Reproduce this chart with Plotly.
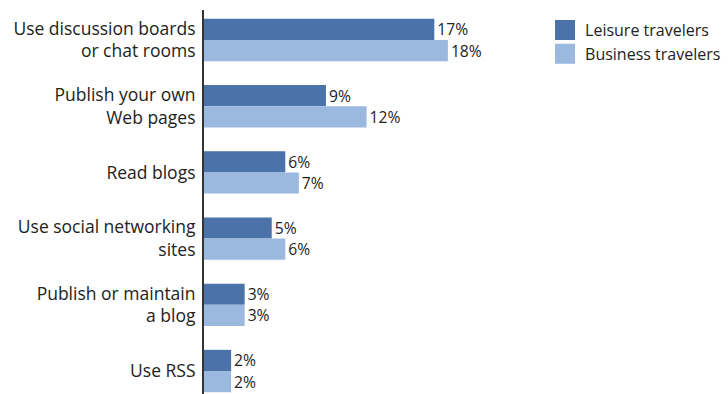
import plotly.graph_objects as go

categories = [
    "Use discussion boards<br>or chat rooms",
    "Publish your own<br>Web pages",
    "Read blogs",
    "Use social networking<br>sites",
    "Publish or maintain<br>a blog",
    "Use RSS",
]
leisure = [17, 9, 6, 5, 3, 2]
business = [18, 12, 7, 6, 3, 2]
series_names = ["Leisure travelers", "Business travelers"]
colors = ["#4b72a9", "#9bb8df"]

FONT = "Open Sans"
fig = go.Figure()
for name, vals, col in zip(series_names, [leisure, business], colors):
    fig.add_trace(go.Bar(
        y=categories, x=vals, name=name, orientation="h",
        marker=dict(color=col, line=dict(width=0)),
        text=[f"{v}%" for v in vals], textposition="outside",
        textfont=dict(family=FONT, size=17, color="#222"),
        cliponaxis=False, showlegend=False,
    ))
    # legend entry with a larger square swatch
    fig.add_trace(go.Scatter(
        x=[None], y=[None], mode="markers", name=name,
        marker=dict(symbol="square", size=16, color=col,
                    line=dict(color=col, width=4)),
        showlegend=True,
    ))

fig.update_layout(
    width=728, height=394,
    margin=dict(l=204, r=188, t=10, b=0),
    paper_bgcolor="white", plot_bgcolor="white",
    barmode="group", bargap=0.36, bargroupgap=0,
    font=dict(family=FONT, size=16, color="#222"),
    legend=dict(x=1.015, y=0.992, xanchor="left", yanchor="top",
                font=dict(family=FONT, size=16, color="#222"),
                itemsizing="trace", tracegroupgap=0,
                bgcolor="rgba(0,0,0,0)"),
    xaxis=dict(visible=False, range=[0, 24.8]),
    yaxis=dict(type="category", categoryorder="array", categoryarray=categories,
               range=[5.347, -0.453], showline=True, linecolor="#333", linewidth=2,
               showgrid=False, zeroline=False, ticks="outside", ticklen=3,
               tickcolor="rgba(0,0,0,0)",
               tickfont=dict(family=FONT, size=17.5, color="#222")),
)
fig.write_html("out.html")
